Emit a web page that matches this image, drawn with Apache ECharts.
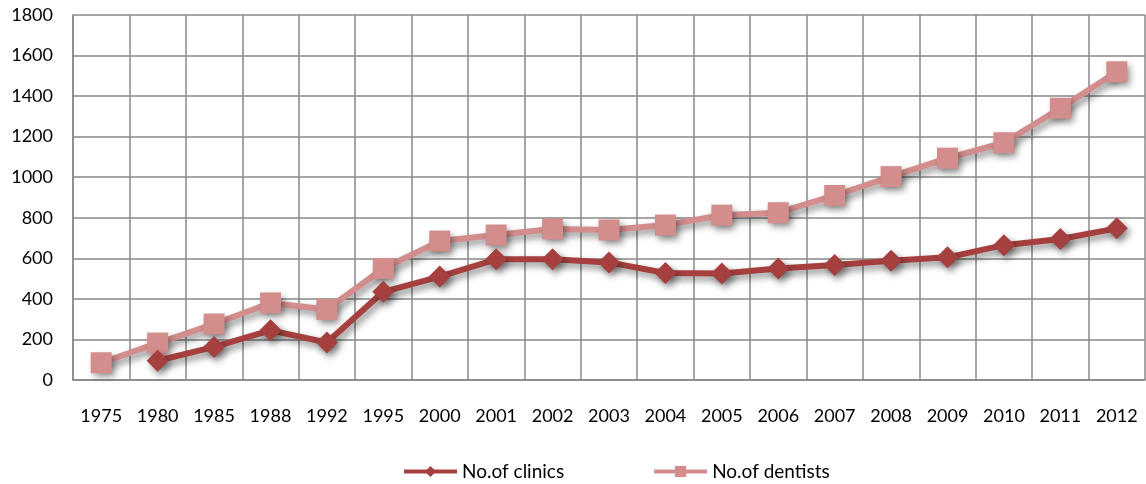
<!DOCTYPE html>
<html>
<head>
<meta charset="utf-8">
<script src="https://cdn.jsdelivr.net/npm/echarts@6/dist/echarts.min.js"></script>
<style>
  html, body { margin: 0; padding: 0; background: #fff; }
  #chart { width: 1146px; height: 484px; }
</style>
</head>
<body>
<div id="chart"></div>
<script>
  var years = ['1975', '1980', '1985', '1988', '1992', '1995', '2000', '2001', '2002', '2003',
    '2004', '2005', '2006', '2007', '2008', '2009', '2010', '2011', '2012']
  // no clinics value for 1975
  var clinics = [null, 95, 163, 245, 185, 435, 510, 595, 595, 580,
    528, 525, 550, 567, 588, 605, 665, 695, 748]
  var dentists = [85, 182, 276, 380, 348, 550, 685, 715, 745, 740,
    764, 813, 825, 910, 1003, 1094, 1170, 1340, 1520]

  var font = 'Lato, "Open Sans", sans-serif'
  var shadow = {
    shadowColor: 'rgba(0, 0, 0, 0.45)',
    shadowBlur: 7,
    shadowOffsetX: 3,
    shadowOffsetY: 4
  }

  var chart = echarts.init(document.getElementById('chart'))
  chart.setOption({
    backgroundColor: '#fff',
    animation: false,
    grid: { left: 73, right: 1, top: 15, bottom: 104 },
    legend: {
      top: 457,
      left: 397,
      itemWidth: 53,
      itemHeight: 14,
      itemGap: 88,
      lineStyle: { width: 4, shadowBlur: 0, shadowOffsetX: 0, shadowOffsetY: 0 },
      itemStyle: { shadowBlur: 0, shadowOffsetX: 0, shadowOffsetY: 0 },
      textStyle: { fontFamily: font, fontSize: 19, color: '#000' },
      data: ['No.of clinics', 'No.of dentists']
    },
    xAxis: {
      type: 'category',
      data: years,
      boundaryGap: true,
      axisLine: { lineStyle: { color: '#888', width: 1.5 } },
      axisTick: { show: false },
      axisLabel: { fontFamily: font, fontSize: 18, color: '#000', margin: 27, interval: 0 },
      splitLine: { show: true, interval: 0, lineStyle: { color: '#888', width: 1.5 } }
    },
    yAxis: {
      type: 'value',
      min: 0,
      max: 1800,
      interval: 200,
      axisLine: { show: true, lineStyle: { color: '#888', width: 1.5 } },
      axisTick: { show: false },
      axisLabel: {
        fontFamily: font, fontSize: 18, color: '#000', margin: 20,
        formatter: function (v) { return String(v) }
      },
      splitLine: { lineStyle: { color: '#888', width: 1.5 } }
    },
    series: [
      {
        name: 'No.of clinics',
        type: 'line',
        data: clinics,
        symbol: 'diamond',
        symbolSize: 22,
        connectNulls: false,
        lineStyle: Object.assign({ color: '#A5403F', width: 6 }, shadow),
        itemStyle: Object.assign({ color: '#A5403F' }, shadow),
        z: 3
      },
      {
        name: 'No.of dentists',
        type: 'line',
        data: dentists,
        symbol: 'rect',
        symbolSize: 21,
        lineStyle: Object.assign({ color: '#D38D8C', width: 6 }, shadow),
        itemStyle: Object.assign({ color: '#D38D8C' }, shadow),
        z: 2
      }
    ]
  })
</script>
</body>
</html>
